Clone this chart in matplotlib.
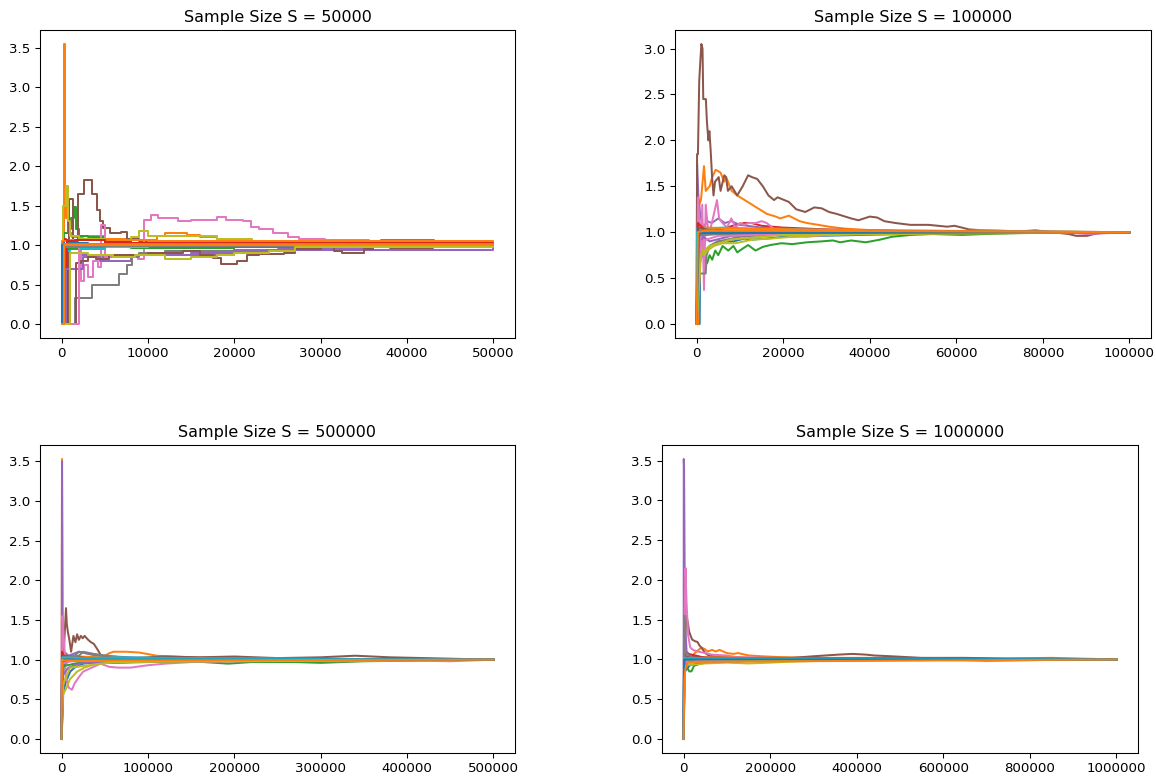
import matplotlib
matplotlib.use("Agg")
import matplotlib.pyplot as plt

# sample sizes of the four runs
sizes = [50000, 100000, 500000, 1000000]

# S = 50000 : running estimates, 22 traces (knot x, knot y)
s1_x = [
    [0, 150, 400, 900, 2000, 5000, 10000, 20000, 29000, 31000, 40000, 50000],
    [0, 250, 400, 550, 800, 1200, 2500, 5000, 8000, 11000, 12000, 14500, 16000, 18000, 21000, 25000, 30000, 40000, 50000],
    [0, 300, 700, 900, 1100, 1400, 1700, 2000, 3000, 4000, 5000, 8000, 15000, 25000, 28000, 30000, 32000, 38000, 40000, 42000, 50000],
    [0, 200, 500, 3000, 5000, 8000, 20000, 50000],
    [0, 200, 1000, 2000, 4000, 7000, 10000, 15000, 20000, 25000, 35000, 50000],
    [0, 800, 1300, 1900, 2650, 3500, 4150, 4400, 4800, 5600, 6900, 7600, 9000, 12000, 20000, 50000],
    [0, 300, 1500, 2300, 2600, 3000, 3600, 4200, 4600, 5000, 6000, 8850, 9500, 10300, 11200, 12500, 13500, 15000, 18000, 19000, 21000, 21900, 22800, 24500, 26200, 27500, 30500, 35600, 44200, 48500, 50000],
    [0, 1500, 3500, 6700, 7600, 8200, 9000, 12000, 20000, 30000, 37000, 43100, 50000],
    [0, 200, 500, 700, 1000, 2000, 5000, 8000, 9000, 10000, 15000, 18000, 22000, 30000, 50000],
    [0, 100, 1000, 5000, 20000, 50000],
    [0, 300, 1000, 3000, 10000, 30000, 50000],
    [0, 100, 1000, 10000, 50000],
    [0, 400, 2000, 8000, 20000, 50000],
    [0, 600, 1500, 5000, 50000],
    [0, 500, 2500, 4500, 8000, 20000, 50000],
    [0, 1670, 2200, 3000, 4000, 5500, 7000, 10000, 14000, 16000, 17500, 18500, 20300, 21500, 22800, 25800, 27000, 30000, 31500, 32500, 35000, 36000, 38000, 43000, 44000, 50000],
    [0, 2000, 10000, 50000],
    [0, 300, 5000, 50000],
    [0, 1000, 3000, 6000, 8500, 10000, 12000, 15000, 18000, 20000, 24000, 27000, 50000],
    [0, 200, 1000, 50000],
    [0, 100, 50000],
    [0, 300, 50000],
]
s1_y = [
    [0, 0.92, 0.97, 1.02, 0.96, 0.97, 0.98, 0.97, 0.95, 0.97, 0.98, 1.0],
    [0, 3.55, 1.75, 1.35, 1.15, 1.1, 1.12, 1.08, 1.07, 1.12, 1.15, 1.13, 1.1, 1.08, 1.05, 1.04, 1.03, 1.01, 1.0],
    [0, 1.15, 1.5, 1.2, 1.35, 1.48, 1.2, 1.12, 1.1, 1.1, 1.05, 1.03, 1.02, 1.0, 0.97, 0.95, 0.97, 0.98, 0.96, 0.98, 1.0],
    [0, 1.08, 1.07, 1.08, 1.04, 1.03, 1.02, 1.0],
    [0, 0.85, 0.9, 0.88, 0.85, 0.87, 0.88, 0.9, 0.92, 0.95, 0.98, 1.0],
    [0, 1.58, 1.05, 1.65, 1.83, 1.65, 1.45, 1.3, 1.22, 1.15, 1.17, 1.08, 1.05, 1.04, 1.02, 1.0],
    [0, 1.02, 0.95, 0.55, 0.75, 0.6, 0.8, 0.72, 1.25, 0.85, 0.88, 0.82, 1.32, 1.38, 1.34, 1.35, 1.3, 1.32, 1.36, 1.32, 1.3, 1.23, 1.2, 1.15, 1.1, 1.08, 1.07, 1.04, 1.04, 1.02, 1.0],
    [0, 0.33, 0.5, 0.63, 0.75, 0.85, 0.9, 0.93, 0.97, 1.03, 1.06, 1.0, 1.0],
    [0, 1.5, 1.75, 1.3, 1.12, 1.08, 1.07, 1.1, 1.18, 1.12, 1.12, 1.08, 1.05, 1.02, 1.0],
    [0, 0.93, 0.95, 0.97, 0.99, 1.0],
    [0, 1.05, 1.03, 1.0, 0.98, 0.99, 1.0],
    [0, 1.05, 1.06, 1.05, 1.0],
    [0, 0.95, 0.97, 0.96, 0.98, 1.0],
    [0, 1.05, 1.06, 1.03, 1.0],
    [0, 0.7, 0.85, 0.8, 0.87, 0.94, 1.0],
    [0, 0.77, 0.8, 0.85, 0.83, 0.87, 0.88, 0.9, 0.92, 0.88, 0.84, 0.76, 0.8, 0.87, 0.89, 0.9, 0.95, 0.97, 0.92, 0.9, 0.95, 0.97, 0.96, 0.98, 1.0, 1.0],
    [0, 0.97, 0.99, 1.0],
    [0, 0.98, 0.99, 1.0],
    [0, 0.9, 0.88, 0.85, 0.88, 0.88, 0.83, 0.85, 0.88, 0.9, 0.93, 0.97, 1.0],
    [0, 1.02, 1.01, 1.0],
    [0, 1.0, 1.0],
    [0, 1.0, 1.0],
]

# S = 100000
s2_x = [
    [0, 700, 800, 1500, 3000, 5000, 8500, 11000, 13000, 16000, 20000, 28000, 38000, 48000, 60000, 75000, 100000],
    [0, 400, 600, 1000, 1700, 2100, 3000, 3600, 4400, 5500, 6400, 6800, 8100, 9400, 11100, 12800, 14500, 16200, 18300, 19300, 21300, 23800, 25500, 28100, 30600, 34000, 37400, 41000, 50000, 70000, 100000],
    [0, 300, 1200, 2400, 3000, 3600, 4300, 5000, 6000, 7300, 8500, 9400, 10600, 11900, 13600, 15300, 17000, 19600, 22100, 25500, 28900, 31500, 33200, 35700, 39100, 42500, 45100, 49400, 54500, 61300, 66400, 75000, 100000],
    [0, 200, 500, 1000, 2000, 3000, 5000, 7000, 9000, 11000, 12700, 15000, 20000, 30000, 50000, 100000],
    [0, 100, 400, 800, 1500, 2500, 3500, 5000, 6500, 8000, 10000, 15000, 25000, 50000, 100000],
    [0, 100, 300, 600, 900, 1100, 1360, 1530, 2130, 2380, 2720, 2950, 3230, 3570, 3900, 4250, 5100, 5530, 6380, 6800, 7230, 8090, 9360, 10640, 11900, 12770, 14000, 15300, 16600, 17900, 18700, 21300, 23000, 25100, 27200, 28900, 30600, 32300, 35700, 37400, 40000, 41700, 43400, 45950, 49400, 53600, 57900, 59600, 63000, 66400, 74900, 78300, 86000, 87700, 90200, 91900, 95000, 100000],
    [0, 300, 700, 1000, 1300, 1700, 2100, 2600, 3000, 3500, 4000, 4700, 5200, 6000, 7000, 8000, 9000, 10000, 11000, 12000, 13600, 15000, 16200, 17500, 19000, 21000, 25500, 30000, 35000, 45000, 55000, 65000, 75000, 85000, 90000, 95000, 100000],
    [0, 800, 2100, 2300, 3000, 5000, 10000, 20000, 40000, 100000],
    [0, 500, 1700, 2500, 4000, 6000, 9000, 13000, 17000, 22000, 30000, 45000, 100000],
    [0, 200, 2000, 6000, 12000, 20000, 40000, 100000],
    [0, 300, 3000, 20000, 100000],
    [0, 500, 2000, 10000, 40000, 100000],
    [0, 200, 1000, 5000, 30000, 100000],
    [0, 300, 2000, 10000, 100000],
    [0, 500, 1500, 3000, 8000, 20000, 100000],
    [0, 400, 3000, 15000, 60000, 100000],
    [0, 1000, 5000, 30000, 100000],
    [0, 300, 10000, 100000],
    [0, 1000, 3000, 8000, 20000, 100000],
    [0, 100, 2000, 100000],
    [0, 500, 100000],
    [0, 300, 2000, 100000],
]
s2_y = [
    [0, 0, 0.68, 0.78, 0.85, 0.9, 0.9, 0.93, 0.92, 0.93, 0.95, 0.96, 0.97, 0.98, 0.99, 0.995, 1.0],
    [0, 0, 1.3, 1.35, 1.72, 1.45, 1.5, 1.6, 1.68, 1.65, 1.55, 1.6, 1.45, 1.4, 1.35, 1.3, 1.25, 1.2, 1.17, 1.15, 1.18, 1.12, 1.1, 1.08, 1.06, 1.04, 1.03, 1.02, 1.01, 1.01, 1.0],
    [0, 0.95, 0.8, 0.66, 0.75, 0.7, 0.8, 0.75, 0.85, 0.8, 0.85, 0.78, 0.82, 0.86, 0.8, 0.84, 0.86, 0.88, 0.87, 0.89, 0.9, 0.91, 0.89, 0.91, 0.89, 0.92, 0.95, 0.97, 0.98, 0.97, 0.98, 0.99, 1.0],
    [0, 1.15, 1.1, 1.0, 0.97, 1.0, 1.03, 1.05, 1.08, 1.1, 1.1, 1.07, 1.05, 1.03, 1.01, 1.0],
    [0, 1.75, 1.4, 1.2, 1.05, 1.12, 1.1, 1.15, 1.1, 1.12, 1.08, 1.05, 1.03, 1.01, 1.0],
    [0, 1.85, 1.85, 2.65, 2.9, 3.05, 3.0, 2.45, 2.45, 2.2, 2.0, 2.1, 1.9, 1.6, 1.4, 1.55, 1.6, 1.45, 1.62, 1.6, 1.45, 1.5, 1.4, 1.5, 1.62, 1.6, 1.58, 1.5, 1.4, 1.35, 1.38, 1.33, 1.25, 1.22, 1.27, 1.26, 1.22, 1.2, 1.15, 1.13, 1.17, 1.16, 1.12, 1.1, 1.08, 1.08, 1.06, 1.07, 1.03, 1.02, 1.01, 1.02, 0.98, 0.96, 0.96, 0.98, 1.0, 1.0],
    [0, 1.38, 1.1, 0.7, 1.3, 0.37, 1.3, 1.05, 1.0, 1.1, 1.2, 1.35, 1.15, 1.1, 1.05, 1.15, 1.05, 1.1, 1.08, 1.1, 1.1, 1.12, 1.1, 1.05, 0.98, 0.97, 0.95, 0.97, 0.98, 0.99, 1.0, 1.02, 1.01, 1.0, 0.98, 0.99, 1.0],
    [0, 0.55, 0.55, 0.75, 0.85, 0.9, 0.95, 0.98, 0.99, 1.0],
    [0, 0.9, 0.75, 0.8, 0.85, 0.88, 0.88, 0.92, 0.93, 0.95, 0.97, 0.99, 1.0],
    [0, 1.05, 1.04, 1.05, 1.04, 1.03, 1.02, 1.0],
    [0, 1.02, 1.0, 1.01, 1.0],
    [0, 1.06, 1.05, 1.04, 1.02, 1.0],
    [0, 0.95, 0.97, 0.98, 0.99, 1.0],
    [0, 1.1, 1.02, 1.01, 1.0],
    [0, 0.85, 0.95, 0.9, 0.96, 0.98, 1.0],
    [0, 1.05, 1.02, 1.01, 1.0, 1.0],
    [0, 0.9, 0.96, 0.99, 1.0],
    [0, 0.97, 0.99, 1.0],
    [0, 0.75, 0.85, 0.92, 0.97, 1.0],
    [0, 1.0, 1.01, 1.0],
    [0, 0.99, 1.0],
    [0, 1.0, 1.02, 1.0],
]

# S = 500000
s3_x = [
    [0, 2000, 5000, 10000, 15000, 25000, 40000, 70000, 120000, 200000, 500000],
    [0, 500, 900, 1500, 3000, 8000, 20000, 35000, 50000, 55000, 60000, 75000, 90000, 100000, 110000, 150000, 250000, 500000],
    [0, 2000, 10000, 30000, 60000, 100000, 150000, 193000, 220000, 270000, 300000, 350000, 500000],
    [0, 1000, 5000, 20000, 50000, 150000, 500000],
    [0, 500, 1200, 3000, 8000, 20000, 40000, 100000, 500000],
    [0, 3000, 5100, 6000, 7300, 9000, 11000, 13700, 16000, 18000, 20000, 22300, 24500, 26600, 30800, 34000, 37300, 41500, 45800, 55000, 80000, 100000, 120000, 160000, 200000, 250000, 300000, 340000, 360000, 380000, 420000, 500000],
    [0, 1000, 3000, 5000, 8000, 12000, 15000, 20000, 25000, 35000, 45000, 55000, 65000, 80000, 100000, 120000, 150000, 200000, 260000, 320000, 400000, 450000, 500000],
    [0, 1000, 5000, 20000, 30000, 100000, 500000],
    [0, 1000, 5100, 9400, 18000, 26600, 40000, 70000, 150000, 500000],
    [0, 1000, 10000, 50000, 150000, 500000],
    [0, 500, 5000, 50000, 500000],
    [0, 1000, 10000, 100000, 500000],
    [0, 2000, 20000, 200000, 500000],
    [0, 500, 3000, 30000, 500000],
    [0, 1000, 8000, 20000, 40000, 500000],
    [0, 2000, 30000, 150000, 500000],
    [0, 1000, 10000, 100000, 500000],
    [0, 500, 20000, 25000, 60000, 500000],
    [0, 2000, 10000, 60000, 500000],
    [0, 1000, 20000, 500000],
    [0, 500, 500000],
    [0, 500, 3000, 500000],
]
s3_y = [
    [0, 0.6, 0.72, 0.85, 0.9, 0.95, 0.97, 0.98, 0.99, 0.995, 1.0],
    [0, 3.53, 1.5, 1.1, 1.0, 1.02, 1.0, 1.02, 1.05, 1.08, 1.1, 1.1, 1.09, 1.07, 1.05, 1.03, 1.01, 1.0],
    [0, 1.05, 1.0, 0.97, 0.96, 0.97, 0.98, 0.95, 0.97, 0.97, 0.96, 0.98, 1.0],
    [0, 1.08, 1.05, 1.03, 1.02, 1.01, 1.0],
    [0, 3.5, 1.3, 1.1, 1.05, 1.1, 1.05, 1.02, 1.0],
    [0, 1.2, 1.65, 1.45, 1.35, 1.25, 1.1, 1.3, 1.22, 1.32, 1.25, 1.3, 1.27, 1.3, 1.25, 1.22, 1.2, 1.13, 1.05, 1.03, 1.02, 1.03, 1.04, 1.03, 1.04, 1.02, 1.03, 1.05, 1.04, 1.03, 1.02, 1.0],
    [0, 1.55, 1.2, 0.8, 0.65, 0.62, 0.7, 0.78, 0.85, 0.9, 0.95, 0.91, 0.9, 0.9, 0.93, 0.95, 0.97, 0.98, 0.99, 0.98, 0.99, 0.98, 1.0],
    [0, 0.9, 0.95, 1.1, 1.08, 0.99, 1.0],
    [0, 0.55, 0.63, 0.75, 0.85, 0.9, 0.95, 0.97, 0.99, 1.0],
    [0, 1.05, 1.04, 1.03, 1.02, 1.0],
    [0, 0.95, 0.98, 0.99, 1.0],
    [0, 1.06, 1.04, 1.01, 1.0],
    [0, 0.92, 0.96, 0.99, 1.0],
    [0, 1.1, 1.03, 1.01, 1.0],
    [0, 0.8, 0.9, 0.95, 0.97, 1.0],
    [0, 1.05, 1.02, 1.01, 1.0],
    [0, 0.95, 0.98, 0.99, 1.0],
    [0, 1.02, 1.05, 1.1, 1.02, 1.0],
    [0, 0.7, 0.9, 0.97, 1.0],
    [0, 1.03, 1.02, 1.0],
    [0, 1.0, 1.0],
    [0, 1.0, 0.99, 1.0],
]

# S = 1000000
s4_x = [
    [0, 1000, 3000, 7000, 15000, 32000, 60000, 100000, 200000, 1000000],
    [0, 1000, 4000, 10000, 20000, 30000, 41000, 49000, 55000, 66000, 74000, 83000, 100000, 115000, 126000, 151000, 180000, 220000, 300000, 500000, 700000, 850000, 1000000],
    [0, 2000, 8000, 13000, 18000, 24000, 40000, 70000, 120000, 200000, 1000000],
    [0, 2000, 10000, 50000, 200000, 1000000],
    [0, 300, 1000, 3000, 6800, 15000, 40000, 100000, 1000000],
    [0, 2000, 6800, 10000, 12800, 16000, 19600, 26000, 32000, 36000, 40800, 50000, 57800, 80000, 150000, 250000, 300000, 355000, 390000, 423000, 440000, 480000, 550000, 650000, 750000, 850000, 1000000],
    [0, 2000, 4250, 6800, 10500, 15300, 22000, 32000, 50000, 66000, 100000, 120000, 200000, 300000, 500000, 650000, 700000, 800000, 900000, 1000000],
    [0, 1000, 3000, 5000, 10000, 100000, 1000000],
    [0, 2000, 10000, 50000, 100000, 150000, 200000, 236000, 300000, 400000, 1000000],
    [0, 1000, 20000, 1000000],
    [0, 1000, 20000, 200000, 1000000],
    [0, 2000, 30000, 300000, 1000000],
    [0, 1000, 10000, 100000, 1000000],
    [0, 3000, 50000, 1000000],
    [0, 1000, 20000, 200000, 1000000],
    [0, 2000, 40000, 400000, 1000000],
    [0, 1000, 30000, 300000, 1000000],
    [0, 2000, 20000, 1000000],
    [0, 3000, 30000, 300000, 1000000],
    [0, 1000, 50000, 1000000],
    [0, 1000, 1000000],
    [0, 1000, 2000, 4000, 10000, 1000000],
]
s4_y = [
    [0, 0.75, 0.85, 0.88, 0.93, 0.95, 0.97, 0.98, 0.99, 1.0],
    [0, 0.9, 1.0, 1.02, 1.05, 1.1, 1.15, 1.13, 1.1, 1.12, 1.1, 1.12, 1.08, 1.07, 1.08, 1.05, 1.04, 1.03, 1.02, 1.02, 1.01, 1.02, 1.0],
    [0, 0.95, 0.9, 0.85, 0.85, 0.92, 0.95, 0.97, 0.98, 0.99, 1.0],
    [0, 1.05, 1.03, 1.02, 1.01, 1.0],
    [0, 3.52, 3.4, 1.5, 1.1, 1.05, 1.03, 1.02, 1.0],
    [0, 1.2, 1.55, 1.45, 1.35, 1.3, 1.25, 1.23, 1.22, 1.18, 1.15, 1.08, 1.05, 1.03, 1.02, 1.02, 1.04, 1.06, 1.07, 1.06, 1.05, 1.04, 1.02, 1.02, 1.01, 1.01, 1.0],
    [0, 1.5, 2.15, 1.7, 1.3, 1.15, 1.12, 1.1, 1.08, 1.06, 1.05, 1.03, 1.02, 1.01, 1.0, 0.99, 0.98, 0.99, 1.0, 1.0],
    [0, 1.55, 1.1, 1.0, 0.99, 1.0, 1.0],
    [0, 0.9, 0.93, 0.95, 0.96, 0.95, 0.96, 0.97, 0.98, 0.99, 1.0],
    [0, 1.03, 1.02, 1.0],
    [0, 0.95, 0.98, 0.99, 1.0],
    [0, 1.05, 1.03, 1.01, 1.0],
    [0, 0.93, 0.97, 0.99, 1.0],
    [0, 1.08, 1.02, 1.0],
    [0, 0.9, 0.96, 0.99, 1.0],
    [0, 1.04, 1.02, 1.01, 1.0],
    [0, 0.96, 0.98, 0.99, 1.0],
    [0, 1.1, 1.02, 1.0],
    [0, 0.92, 0.97, 0.99, 1.0],
    [0, 1.02, 1.01, 1.0],
    [0, 1.0, 1.0],
    [0, 0.5, 0.75, 0.88, 0.97, 1.0],
]

panels = [(s1_x, s1_y), (s2_x, s2_y), (s3_x, s3_y), (s4_x, s4_y)]

W, H = 1156, 778
fig = plt.figure(figsize=(W / 96, H / 96), dpi=96)

# axes boxes in pixels: left, top, right, bottom
boxes = [(40, 30, 515, 338), (675, 30, 1151, 338),
         (40, 445, 515, 753), (662, 445, 1138, 753)]

for k, ((xs, ys), (l, t, r, b)) in enumerate(zip(panels, boxes)):
    ax = fig.add_axes([l / W, 1 - b / H, (r - l) / W, (b - t) / H])
    for x, y in zip(xs, ys):
        if k == 0:
            ax.plot(x, y, drawstyle='steps-post')
        else:
            ax.plot(x, y)
    ax.set_title('Sample Size S = %d' % sizes[k], fontsize=12)
    ax.ticklabel_format(axis='x', style='plain', useOffset=False)
    ax.tick_params(labelsize=10)

fig.savefig('out.png', dpi=96)
